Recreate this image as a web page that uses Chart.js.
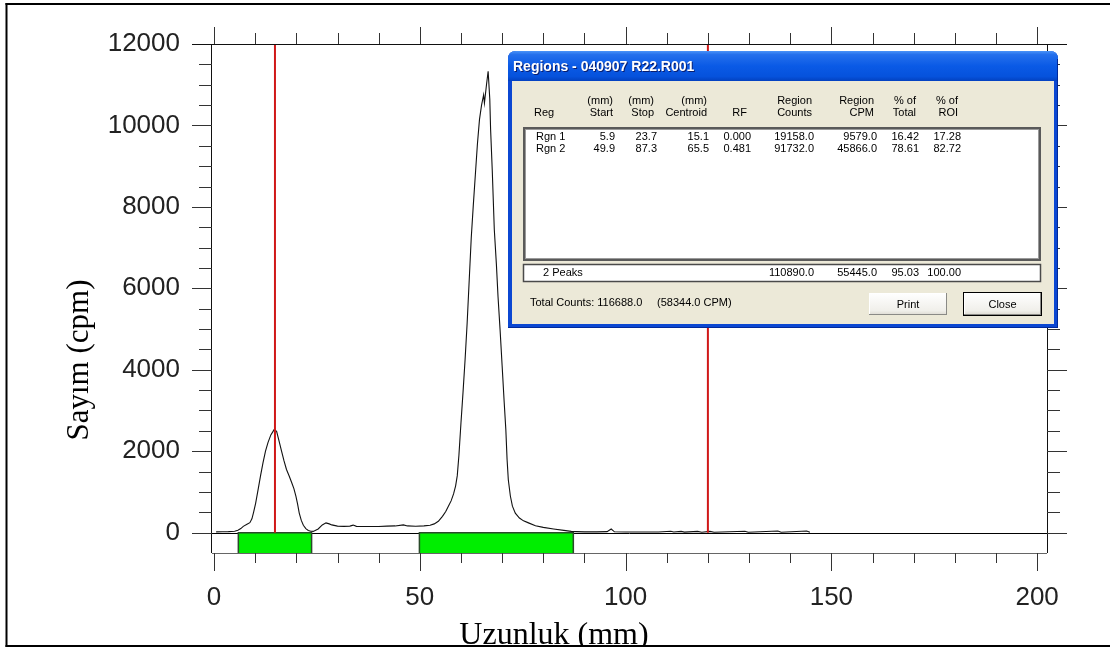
<!DOCTYPE html>
<html><head><meta charset="utf-8">
<script src="https://cdn.jsdelivr.net/npm/chart.js@4.4.1/dist/chart.umd.min.js"></script>
<style>html,body{margin:0;padding:0;background:#fff;}#wrap{width:1110px;height:653px;position:relative;}</style>
</head><body><div id="wrap"><canvas id="c" width="1110" height="653"></canvas></div>
<script>
// ---------------- data ----------------
const positionsMm = [0.5,2,3.5,5,5.8,6.5,7.1,8,8.7,9.2,9.6,10.1,10.7,11.3,11.9,12.5,13.1,13.8,14.6,15.2,15.8,16.4,17,17.6,18.3,18.9,19.4,19.9,20.3,20.7,21.2,21.7,22.3,22.9,23.5,24.1,25.3,26.3,27.2,28,28.6,30,31.5,33,33.8,34.6,37,40,42,44,46,47,49,51,52.5,53.5,54.5,55.5,56.3,57,57.6,58.2,58.7,59.1,59.5,60,60.5,61,61.5,62,62.5,63,63.5,64,64.5,65,65.2,65.5,65.7,66.2,66.6,67,67.2,67.6,68.1,68.6,69,69.5,70,70.5,70.9,71.2,71.5,72,72.5,73.2,74.2,75.2,76.4,78.1,80,82.5,85,86.8,88,90,93,95.5,96.5,97.3,100,104,108,111,111.7,113.5,114.3,117.5,118.5,120.5,121.5,129,129.8,137,137.8,144,144.8];
const countsCpm   = [20,22,25,35,60,100,155,205,245,340,500,720,1055,1400,1720,2000,2210,2400,2530,2490,2250,2000,1760,1550,1380,1220,1080,890,700,480,300,180,100,55,35,30,90,190,240,215,190,160,155,160,185,155,150,152,160,165,190,165,158,165,180,215,280,400,520,660,780,950,1150,1400,1900,2700,3450,4250,5150,6200,7250,8050,8800,9550,10150,10500,10600,10750,10550,11000,11330,10650,9900,8900,7440,6600,5800,4985,4100,3200,2530,1800,1300,900,650,480,360,290,240,170,130,90,55,30,25,20,20,25,90,20,15,15,15,35,15,30,12,30,10,30,10,35,8,40,8,40,8];
const regionStartMm = [5.9, 49.9];
const regionStopMm  = [23.7, 87.3];
const markerMm = [14.8, 120];
const xTickLabels = [0, 50, 100, 150, 200];
const yTickLabels = [0, 2000, 4000, 6000, 8000, 10000, 12000];
const xAxisTitle = 'Uzunluk (mm)';
const yAxisTitle = 'Sayım (cpm)';

// dialog contents
const dlgTitle = 'Regions - 040907 R22.R001';
const headRow1 = ['', '(mm)', '(mm)', '(mm)', '', 'Region', 'Region', '% of', '% of'];
const headRow2 = ['Reg', 'Start', 'Stop', 'Centroid', 'RF', 'Counts', 'CPM', 'Total', 'ROI'];
const regNames = ['Rgn 1', 'Rgn 2'];
const regCentroid = [15.1, 65.5];
const regRF = [0.000, 0.481];
const regCounts = [19158.0, 91732.0];
const regCPM = [9579.0, 45866.0];
const regPctTotal = [16.42, 78.61];
const regPctROI = [17.28, 82.72];
const peaksLabel = '2 Peaks';
const peaksCounts = 110890.0, peaksCPM = 55445.0, peaksPctTotal = 95.03, peaksPctROI = 100.00;
const totalCounts = 116688.0, totalCPM = 58344.0;

// ---------------- chart ----------------
const Y_MIN = -500, Y_MAX = 12000, X_MIN = -0.5, X_MAX = 202.4;
Chart.defaults.font.family = "'Liberation Sans', Arial, sans-serif";

const datasets = [];
markerMm.forEach(m => datasets.push({
  data: [{x: m, y: 0}, {x: m, y: Y_MAX}], showLine: true, borderColor: '#D01818',
  borderWidth: 2, pointRadius: 0, fill: false
}));
datasets.push({
  data: positionsMm.map((x, i) => ({x, y: countsCpm[i]})), showLine: true,
  borderColor: '#111', borderWidth: 1.1, pointRadius: 0, tension: 0, fill: false
});
regionStartMm.forEach((s, i) => datasets.push({
  data: [{x: s, y: Y_MIN}, {x: s, y: 0}, {x: regionStopMm[i], y: 0}, {x: regionStopMm[i], y: Y_MIN}],
  showLine: true, borderColor: '#2a4a2a', borderWidth: 1.5, backgroundColor: '#00EE00',
  fill: {value: Y_MIN}, pointRadius: 0, tension: 0
}));

function line(ctx, x1, y1, x2, y2) { ctx.beginPath(); ctx.moveTo(x1, y1); ctx.lineTo(x2, y2); ctx.stroke(); }

function drawDialog(ctx) {
  const L = 508, T = 51, R = 1058, B = 328;
  ctx.save();
  ctx.beginPath();
  ctx.moveTo(L, B); ctx.lineTo(L, T + 8); ctx.quadraticCurveTo(L, T, L + 8, T);
  ctx.lineTo(R - 8, T); ctx.quadraticCurveTo(R, T, R, T + 8); ctx.lineTo(R, B); ctx.closePath();
  ctx.fillStyle = '#0B47D2'; ctx.fill();
  ctx.save(); ctx.clip();
  const g = ctx.createLinearGradient(0, T, 0, T + 30);
  g.addColorStop(0, '#4A93F8'); g.addColorStop(0.12, '#2570EC'); g.addColorStop(0.5, '#0A5AE6');
  g.addColorStop(0.85, '#0652DC'); g.addColorStop(1, '#0341C0');
  ctx.fillStyle = g; ctx.fillRect(L, T, R - L, 30);
  ctx.restore();
  ctx.fillStyle = '#00299A'; ctx.fillRect(R - 1, T + 8, 1, B - T - 8); ctx.fillRect(L, B - 1, R - L, 1);
  // body
  ctx.fillStyle = '#ECE9D8'; ctx.fillRect(L + 4, T + 30, R - L - 8, B - T - 34);
  // title text
  ctx.font = "bold 14px 'Liberation Sans', Arial, sans-serif";
  ctx.textBaseline = 'middle'; ctx.textAlign = 'left';
  ctx.fillStyle = '#0A1E6E'; ctx.fillText(dlgTitle, 514, 68);
  ctx.fillStyle = '#FFFFFF'; ctx.fillText(dlgTitle, 513, 67);

  ctx.font = "11px 'Liberation Sans', Arial, sans-serif";
  ctx.fillStyle = '#000';
  const headRight = [null, 613, 654, 707, 747, 812, 874, 916, 958];
  headRow1.forEach((s, i) => { if (s && headRight[i]) { ctx.textAlign = 'right'; ctx.fillText(s, headRight[i], 101); } });
  headRow2.forEach((s, i) => {
    if (i === 0) { ctx.textAlign = 'left'; ctx.fillText(s, 534, 113); }
    else { ctx.textAlign = 'right'; ctx.fillText(s, headRight[i], 113); }
  });
  // list box
  ctx.fillStyle = '#FFFFFF'; ctx.fillRect(523, 127, 518, 134);
  ctx.strokeStyle = '#5A5A5A'; ctx.lineWidth = 2; ctx.strokeRect(524, 128, 516, 132);
  ctx.strokeStyle = '#9A9A9A'; ctx.lineWidth = 1; ctx.strokeRect(525.5, 129.5, 513, 129);
  const dataRight = [null, 615, 657, 709, 751, 814, 877, 919, 961];
  ctx.fillStyle = '#000';
  regNames.forEach((nm, i) => {
    const y = 137 + i * 12.3;
    const cells = [nm, regionStartMm[i].toFixed(1), regionStopMm[i].toFixed(1), regCentroid[i].toFixed(1),
      regRF[i].toFixed(3), regCounts[i].toFixed(1), regCPM[i].toFixed(1), regPctTotal[i].toFixed(2), regPctROI[i].toFixed(2)];
    cells.forEach((s, j) => {
      if (j === 0) { ctx.textAlign = 'left'; ctx.fillText(s, 536, y); }
      else { ctx.textAlign = 'right'; ctx.fillText(s, dataRight[j], y); }
    });
  });
  // summary box
  ctx.fillStyle = '#FFFFFF'; ctx.fillRect(523, 264, 518, 18);
  ctx.strokeStyle = '#4A4A4A'; ctx.lineWidth = 1.5; ctx.strokeRect(523.5, 264.5, 517, 17);
  ctx.fillStyle = '#000';
  ctx.textAlign = 'left'; ctx.fillText(peaksLabel, 543, 273);
  ctx.textAlign = 'right';
  ctx.fillText(peaksCounts.toFixed(1), dataRight[5], 273);
  ctx.fillText(peaksCPM.toFixed(1), dataRight[6], 273);
  ctx.fillText(peaksPctTotal.toFixed(2), dataRight[7], 273);
  ctx.fillText(peaksPctROI.toFixed(2), dataRight[8], 273);
  // totals
  ctx.textAlign = 'left';
  ctx.fillText('Total Counts: ' + totalCounts.toFixed(1), 530, 303);
  ctx.fillText('(' + totalCPM.toFixed(1) + ' CPM)', 657, 303);
  // buttons
  function button(x, y, w, h, label, isDefault) {
    const bg = ctx.createLinearGradient(0, y, 0, y + h);
    bg.addColorStop(0, '#FFFFFF'); bg.addColorStop(0.8, '#F0EFEA'); bg.addColorStop(1, '#DCDAD2');
    ctx.fillStyle = bg; ctx.fillRect(x, y, w, h);
    ctx.lineWidth = 1;
    ctx.strokeStyle = '#FFFFFF'; line(ctx, x + 0.5, y + h, x + 0.5, y + 0.5); line(ctx, x, y + 0.5, x + w, y + 0.5);
    ctx.strokeStyle = '#8A8A86'; line(ctx, x + w - 0.5, y, x + w - 0.5, y + h); line(ctx, x, y + h - 0.5, x + w, y + h - 0.5);
    if (isDefault) { ctx.strokeStyle = '#000'; ctx.strokeRect(x - 0.5, y - 0.5, w + 1, h + 1); }
    ctx.fillStyle = '#000'; ctx.textAlign = 'center'; ctx.fillText(label, x + w / 2, y + h / 2 + 0.5);
  }
  button(869, 293, 78, 22, 'Print', false);
  button(964, 293, 77, 22, 'Close', true);
  ctx.restore();
}

const decorPlugin = {
  id: 'decor',
  beforeDatasetsDraw(chart) {
    const {ctx, chartArea: a, scales: {y}} = chart;
    ctx.save();
    ctx.strokeStyle = '#000'; ctx.lineWidth = 1;
    const y0 = Math.round(y.getPixelForValue(0)) + 0.5;
    line(ctx, a.left - 20, y0, a.right + 20, y0);
    ctx.restore();
  },
  afterDraw(chart) {
    const {ctx, chartArea: a, scales: {x, y}} = chart;
    ctx.save();
    ctx.lineWidth = 1;
    // plot box
    ctx.strokeStyle = '#111';
    line(ctx, a.left - 0.5, a.top, a.left - 0.5, a.bottom);
    line(ctx, a.right + 0.5, a.top, a.right + 0.5, a.bottom);
    ctx.strokeStyle = '#666';
    line(ctx, a.left, a.bottom + 0.5, a.right, a.bottom + 0.5);
    // x ticks (bottom and top)
    ctx.strokeStyle = '#333';
    for (let v = 0; v <= 200; v += 10) {
      const px = Math.round(x.getPixelForValue(v)) + 0.5;
      const major = v % 50 === 0;
      line(ctx, px, a.bottom, px, a.bottom + (major ? 18 : 10));
      line(ctx, px, a.top, px, a.top - (major ? 17 : 11));
    }
    // y ticks (left and right)
    for (let v = 0; v <= Y_MAX; v += 500) {
      const py = Math.round(y.getPixelForValue(v)) + 0.5;
      const major = v % 2000 === 0;
      ctx.strokeStyle = (v === Y_MAX) ? '#111' : '#333';
      if (v === Y_MAX) { line(ctx, a.left - 20, py, a.right + 20, py); continue; }
      line(ctx, a.left - (major ? 20 : 13), py, a.left, py);
      line(ctx, a.right, py, a.right + (major ? 20 : 13), py);
    }
    // axis titles
    ctx.fillStyle = '#000';
    ctx.font = "31px 'Liberation Serif', 'Times New Roman', serif";
    ctx.save(); ctx.translate(88, 360); ctx.rotate(-Math.PI / 2);
    ctx.textAlign = 'center'; ctx.textBaseline = 'alphabetic'; ctx.fillText(yAxisTitle, 0, 0);
    ctx.restore();
    ctx.font = "32px 'Liberation Serif', 'Times New Roman', serif";
    ctx.textAlign = 'center'; ctx.textBaseline = 'alphabetic';
    ctx.fillText(xAxisTitle, 554, 644);
    // dialog
    drawDialog(ctx);
    // outer frame
    ctx.fillStyle = '#FFFFFF'; ctx.fillRect(0, 647, 1110, 6);
    ctx.fillStyle = '#000';
    ctx.fillRect(5.5, 3, 2, 644);
    ctx.fillRect(5.5, 3, 1105, 2);
    ctx.fillRect(5.5, 645, 1105, 2);
    ctx.restore();
  }
};

new Chart(document.getElementById('c'), {
  type: 'scatter',
  data: {datasets},
  options: {
    responsive: false, animation: false, devicePixelRatio: 1,
    layout: {padding: {left: 0, top: 44, right: 63, bottom: 0}},
    plugins: {legend: {display: false}, tooltip: {enabled: false}, title: {display: false}},
    scales: {
      x: {
        type: 'linear', min: X_MIN, max: X_MAX,
        grid: {display: false, drawTicks: false}, border: {display: false},
        afterBuildTicks: s => { s.ticks = xTickLabels.map(v => ({value: v})); },
        afterFit: s => { s.height = 100; },
        ticks: {padding: 29, font: {size: 26}, color: '#222', maxRotation: 0, autoSkip: false, callback: v => String(v)}
      },
      y: {
        type: 'linear', min: Y_MIN, max: Y_MAX,
        grid: {display: false, drawTicks: false}, border: {display: false},
        afterBuildTicks: s => { s.ticks = yTickLabels.map(v => ({value: v})); },
        afterFit: s => { s.width = 212; },
        ticks: {padding: 32, font: {size: 26, lineHeight: 0.8}, color: '#222', autoSkip: false, callback: v => String(v)}
      }
    }
  },
  plugins: [decorPlugin]
});
</script>
</body></html>
